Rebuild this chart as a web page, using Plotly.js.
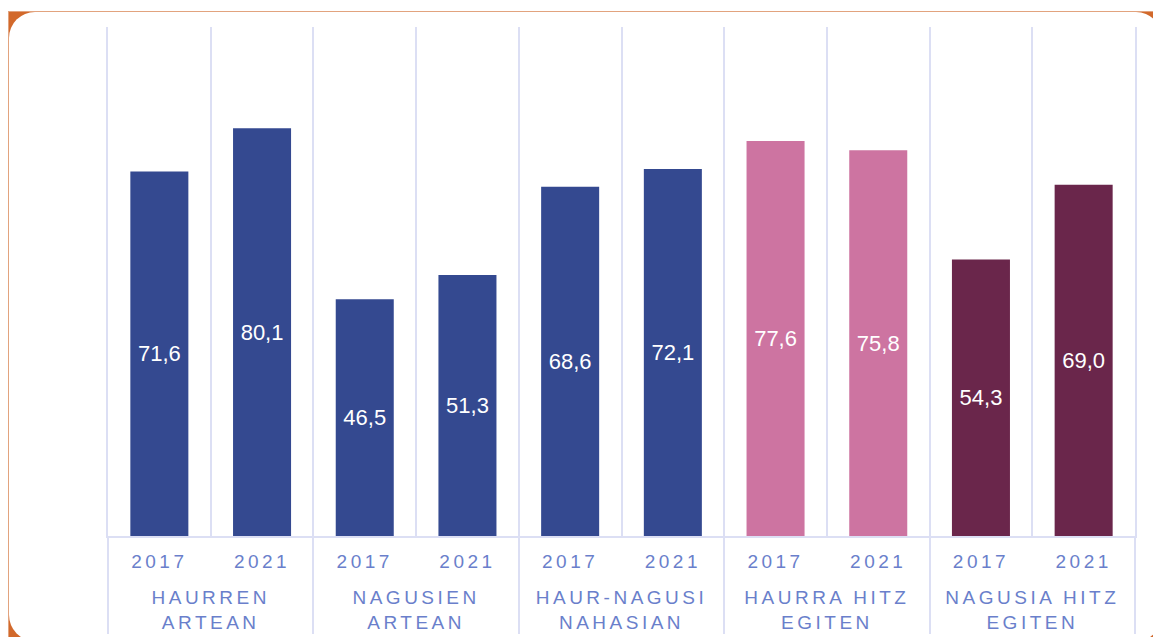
<!DOCTYPE html>
<html>
<head>
<meta charset="utf-8">
<script src="https://cdn.plot.ly/plotly-3.0.1.min.js"></script>
<style>
  html, body { margin:0; padding:0; background:#ffffff; width:1153px; height:637px; overflow:hidden; }
  #outer { position:absolute; left:8px; top:11px; width:1160px; height:640px; background:#D2692B; }
  #inner { position:absolute; left:9px; top:12px; width:1153px; height:629px; background:#ffffff; border-radius:26px; }
  #lineTop { position:absolute; left:8px; top:11px; width:1150px; height:1px; background:#E2A37E; }
  #lineLeft { position:absolute; left:8px; top:11px; width:1px; height:630px; background:#E2A37E; }
  #chart { position:absolute; left:0; top:0; width:1153px; height:637px; }
  .xaxislayer-above text { letter-spacing:3.5px; }
</style>
</head>
<body>
<div id="outer"></div>
<div id="lineTop"></div>
<div id="lineLeft"></div>
<div id="inner"></div>
<div id="chart"></div>
<script>
const groups = [
  "HAURREN<br>ARTEAN",
  "NAGUSIEN<br>ARTEAN",
  "HAUR-NAGUSI<br>NAHASIAN",
  "HAURRA HITZ<br>EGITEN",
  "NAGUSIA HITZ<br>EGITEN"
];
const years = ["2017", "2021"];
const values2017 = [71.6, 46.5, 68.6, 77.6, 54.3];
const values2021 = [80.1, 51.3, 72.1, 75.8, 69.0];
const groupColors = ["#344990", "#344990", "#344990", "#CD74A1", "#6A264B"];

// invisible tall spacer so the group labels sit lower under the year labels
const pad = "<span style='font-size:36px'>\u00a0</span>";

const xGroup = [], xYear = [], yVals = [], colors = [], labels = [];
groups.forEach((g, i) => {
  [values2017[i], values2021[i]].forEach((v, j) => {
    xGroup.push(g);
    xYear.push(pad + years[j] + pad);
    yVals.push(v);
    colors.push(groupColors[i]);
    labels.push(v.toFixed(1).replace('.', ','));
  });
});

const trace = {
  type: 'bar',
  x: [xGroup, xYear],
  y: yVals,
  marker: { color: colors, line: { width: 0 } },
  text: labels,
  texttemplate: '%{text}',
  textposition: 'inside',
  insidetextanchor: 'middle',
  textangle: 0,
  insidetextfont: { family: 'Liberation Sans, Arial, sans-serif', size: 22, color: '#ffffff' },
  hoverinfo: 'none'
};

const lav = '#DCDFF4';
const layout = {
  width: 1153,
  height: 637,
  margin: { l: 108, r: 18, t: 27, b: 101 },
  paper_bgcolor: 'rgba(0,0,0,0)',
  plot_bgcolor: 'rgba(0,0,0,0)',
  bargap: 0.435,
  showlegend: false,
  xaxis: {
    type: 'multicategory',
    tickson: 'boundaries',
    showgrid: true,
    gridcolor: lav,
    gridwidth: 2,
    showline: true,
    linecolor: lav,
    linewidth: 2,
    ticks: '',
    ticklabelstandoff: 7,
    showdividers: true,
    dividercolor: lav,
    dividerwidth: 2,
    tickfont: { family: 'Liberation Sans, Arial, sans-serif', size: 19, color: '#6A7FCB' },
    automargin: false
  },
  yaxis: {
    range: [0, 100],
    showgrid: false,
    showticklabels: false,
    zeroline: false,
    showline: true,
    mirror: true,
    linecolor: lav,
    linewidth: 2,
    ticks: ''
  }
};

Plotly.newPlot('chart', [trace], layout, { displayModeBar: false, staticPlot: true });
</script>
</body>
</html>
